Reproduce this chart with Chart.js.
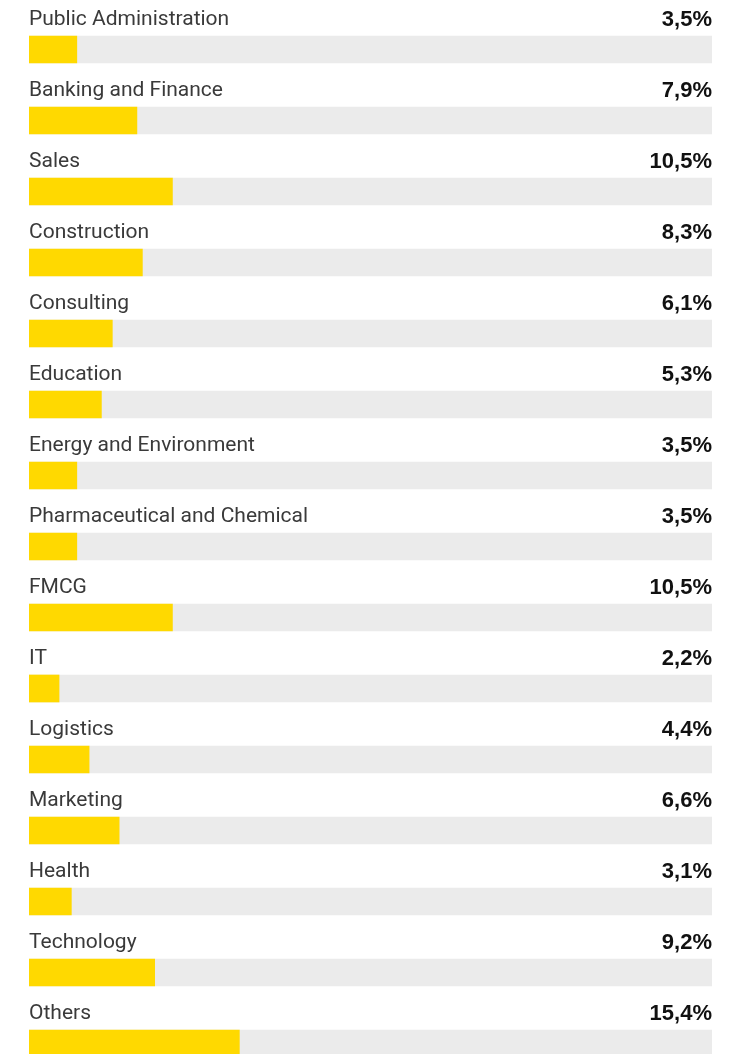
<!DOCTYPE html>
<html>
<head>
<meta charset="utf-8">
<title>Sectors</title>
<script src="https://cdn.jsdelivr.net/npm/chart.js@4/dist/chart.umd.min.js"></script>
<style>
    html, body { margin: 0; padding: 0; background: #fff; overflow: hidden; }
    #wrap { position: relative; width: 743px; height: 1079px; }
</style>
</head>
<body>
<div id="wrap"><canvas id="sectorChart"></canvas></div>
<script>
// --- Data ---
const sectors = [
    'Public Administration', 'Banking and Finance', 'Sales', 'Construction',
    'Consulting', 'Education', 'Energy and Environment', 'Pharmaceutical and Chemical',
    'FMCG', 'IT', 'Logistics', 'Marketing', 'Health', 'Technology', 'Others'
];
const shares = [3.5, 7.9, 10.5, 8.3, 6.1, 5.3, 3.5, 3.5, 10.5, 2.2, 4.4, 6.6, 3.1, 9.2, 15.4];
const scaleMax = 50;

// --- Colours ---
const colors = {
    bar: '#FFD900',
    track: '#EBEBEB',
    label: '#3a3a3a',
    value: '#111111'
};

const fmtShare = (v) => v.toFixed(1).replace('.', ',') + '%';

// category name above each bar, value right-aligned on the same line
const rowLabels = {
    id: 'rowLabels',
    afterDatasetsDraw(chart) {
        const ctx = chart.ctx;
        const area = chart.chartArea;
        const meta = chart.getDatasetMeta(0);
        ctx.save();
        ctx.textBaseline = 'alphabetic';
        meta.data.forEach((bar, i) => {
            const top = bar.y - bar.height / 2;
            ctx.font = '400 21px Roboto, "Liberation Sans", sans-serif';
            ctx.fillStyle = colors.label;
            ctx.textAlign = 'left';
            ctx.fillText(sectors[i], area.left, top - 11);

            ctx.font = 'bold 22px "Liberation Sans", Arial, sans-serif';
            ctx.fillStyle = colors.value;
            ctx.textAlign = 'right';
            ctx.fillText(fmtShare(shares[i]), area.right, top - 10);
        });
        ctx.restore();
    }
};

const ctx = document.getElementById('sectorChart').getContext('2d');
new Chart(ctx, {
    type: 'bar',
    data: {
        labels: sectors,
        datasets: [
            {
                label: 'Share',
                data: shares,
                backgroundColor: colors.bar,
                borderWidth: 0,
                barThickness: 27,
                order: 0
            },
            {
                label: 'Track',
                data: sectors.map(() => scaleMax),
                backgroundColor: colors.track,
                borderWidth: 0,
                barThickness: 27,
                order: 1
            }
        ]
    },
    options: {
        indexAxis: 'y',
        responsive: true,
        maintainAspectRatio: false,
        animation: false,
        grouped: false,
        layout: { padding: { left: 29, right: 31, top: 14, bottom: 0 } },
        scales: {
            x: { display: false, min: 0, max: scaleMax },
            y: { display: false }
        },
        plugins: {
            legend: { display: false },
            tooltip: { enabled: false }
        }
    },
    plugins: [rowLabels]
});
</script>
</body>
</html>
